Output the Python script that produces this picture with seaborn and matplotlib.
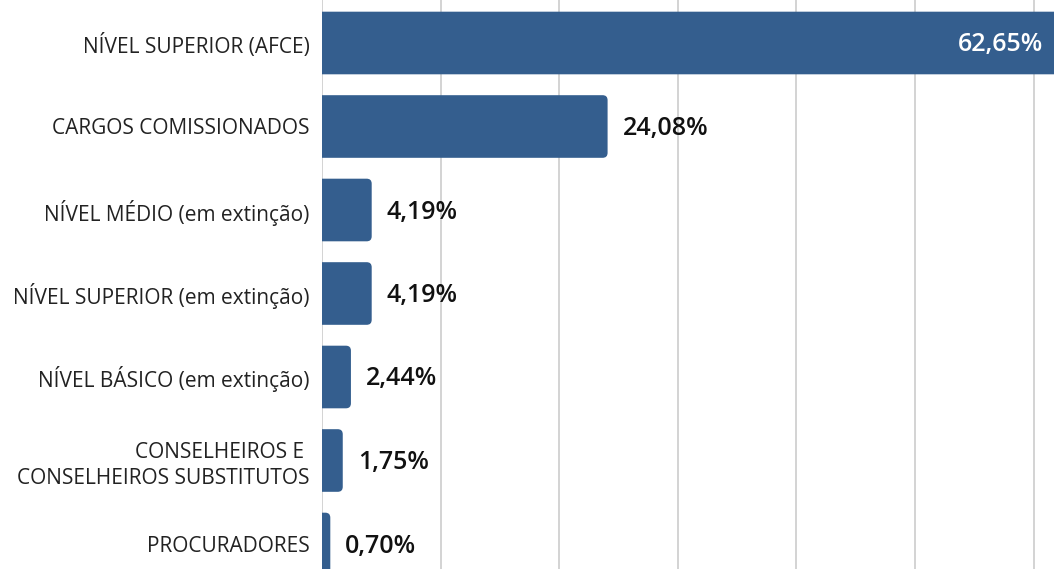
import matplotlib
matplotlib.use("Agg")
import matplotlib.pyplot as plt
import seaborn as sns
import pandas as pd
from matplotlib.patches import FancyBboxPatch

categories = [
    "NÍVEL SUPERIOR (AFCE)",
    "CARGOS COMISSIONADOS",
    "NÍVEL MÉDIO (em extinção)",
    "NÍVEL SUPERIOR (em extinção)",
    "NÍVEL BÁSICO (em extinção)",
    "CONSELHEIROS E \nCONSELHEIROS SUBSTITUTOS",
    "PROCURADORES",
]
values = [62.65, 24.08, 4.19, 4.19, 2.44, 1.75, 0.70]
value_labels = ["62,65%", "24,08%", "4,19%", "4,19%", "2,44%", "1,75%", "0,70%"]

df = pd.DataFrame({"cat": categories, "val": values})

sns.set_theme(style="white")
plt.rcParams["font.family"] = ["Open Sans", "DejaVu Sans"]

W, H = 1054, 569
fig = plt.figure(figsize=(W / 100, H / 100), dpi=100)
left_px = 322
ax = fig.add_axes([left_px / W, 0, (W - left_px) / W, 1])

color = "#345E8E"
sns.barplot(data=df, x="val", y="cat", orient="h", color=color, width=0.75,
            saturation=1, ax=ax)

px_per_x = 11.86
px_per_y = 83.5
xmax = (W - left_px) / px_per_x
ax.set_xlim(0, xmax)
ax.set_ylim((H - 43) / px_per_y, -43 / px_per_y)

# rounded bar ends
aspect = (1 / px_per_y) / (1 / px_per_x)
r = 5 / px_per_x
for p in list(ax.patches):
    x0, y0 = p.get_x(), p.get_y()
    w, h = p.get_width(), p.get_height()
    fb = FancyBboxPatch((x0 - 2, y0), w + 2, h,
                        boxstyle=f"round,pad=0,rounding_size={r}",
                        mutation_aspect=aspect, facecolor=color,
                        edgecolor="none", zorder=2, clip_on=True)
    ax.add_patch(fb)
    p.remove()

ax.set_xticks([0, 10, 20, 30, 40, 50, 60])
ax.grid(axis="x", color="#cccccc", linewidth=1.2, zorder=0)
ax.set_axisbelow(True)
ax.set_xticklabels([])
ax.tick_params(axis="x", length=0)
ax.tick_params(axis="y", length=0, pad=9, labelsize=15, labelcolor="#222222")
for s in ax.spines.values():
    s.set_visible(False)
ax.set_xlabel("")
ax.set_ylabel("")
for t in ax.get_yticklabels():
    t.set_linespacing(1.3)

for i, (v, lab) in enumerate(zip(values, value_labels)):
    if v > 50:
        ax.annotate(lab, xy=(v, i), xytext=(-22, -2), textcoords="offset pixels",
                    ha="right", va="center", color="white", fontsize=18,
                    fontweight="semibold", annotation_clip=False)
    else:
        ax.annotate(lab, xy=(v, i), xytext=(15, -2), textcoords="offset pixels",
                    ha="left", va="center", color="#111111", fontsize=18,
                    fontweight="semibold")

fig.savefig("out.png", dpi=100)
